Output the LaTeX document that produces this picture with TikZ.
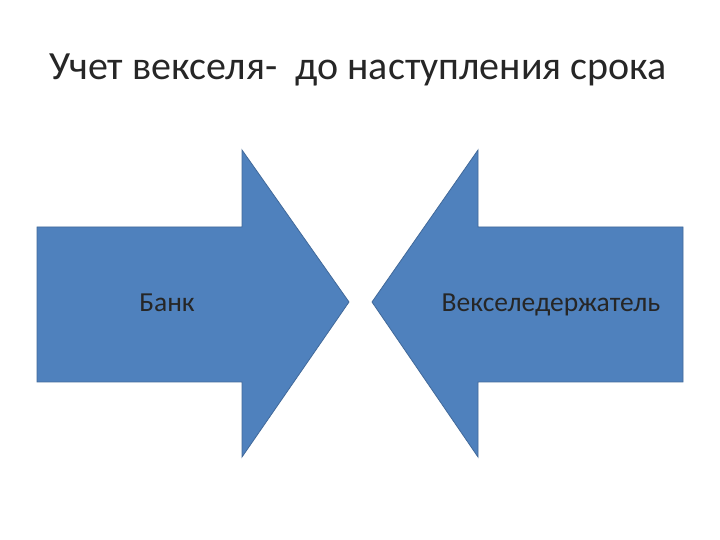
\documentclass[tikz,border=0pt]{standalone}
\usepackage{fontspec}
\setmainfont{Carlito}
\definecolor{arr}{HTML}{4F81BD}
\definecolor{arrb}{HTML}{41699A}
\begin{document}
\begin{tikzpicture}[x=1pt,y=1pt]
\tikzset{arrowshape/.style={fill=arr,draw=arrb,line width=0.8pt},
lbl/.style={font=\fontsize{27.5}{32}\selectfont,text=black!85,anchor=base}}
\useasboundingbox (0,0) rectangle (720,540);
\fill[white] (0,0) rectangle (720,540);
\node[font=\fontsize{40}{46}\selectfont,text=black!85,anchor=base] (title) at (358,460) {Учет векселя-\ \ до наступления срока};
\draw[arrowshape] (37,313) -- (242,313) -- (242,390) -- (349,238) -- (242,83) -- (242,158) -- (37,158) -- cycle;
\draw[arrowshape] (683,313) -- (478,313) -- (478,390) -- (372,238) -- (478,83) -- (478,158) -- (683,158) -- cycle;
\node[lbl] (bank) at (167,228) {Банк};
\node[lbl] (holder) at (551,228) {Векселедержатель};
\end{tikzpicture}
\end{document}
